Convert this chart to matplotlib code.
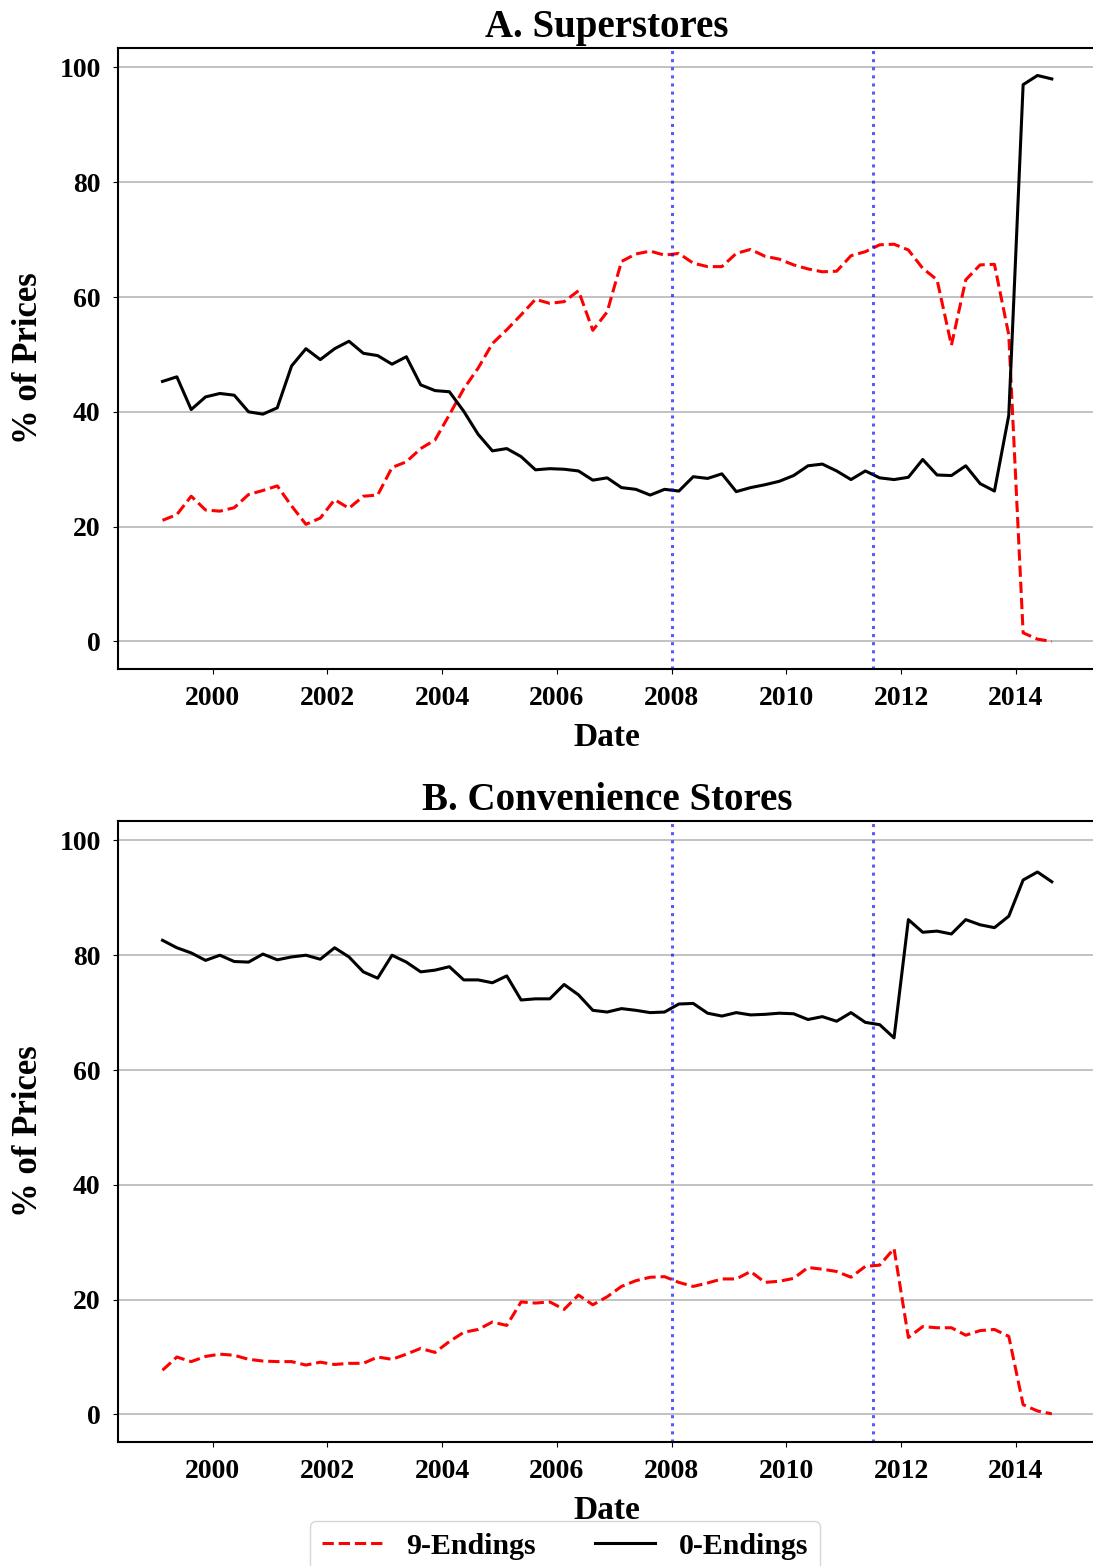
import matplotlib
matplotlib.use("Agg")
import matplotlib.pyplot as plt
import pandas as pd

plt.rcParams['font.family'] = 'serif'
plt.rcParams['font.serif'] = ['Liberation Serif', 'DejaVu Serif']
plt.rcParams['font.weight'] = 'bold'
plt.rcParams['axes.titleweight'] = 'bold'
plt.rcParams['axes.labelweight'] = 'bold'

# quarterly observations, 1999Q1 .. 2014Q3 (plotted at mid-quarter)
quarters = pd.period_range('1999Q1', '2014Q3', freq='Q')
dates = [q.year + (q.quarter - 1) / 4 + 0.125 for q in quarters]

super_9 = [21.1, 22.1, 25.3, 22.9,
           22.7, 23.3, 25.6, 26.3,
           27.1, 23.6, 20.4, 21.5,
           24.7, 23.2, 25.3, 25.5,
           30.3, 31.3, 33.6, 35.1,
           39.5, 44.0, 47.6, 51.9,
           54.3, 56.9, 59.6, 58.9,
           59.2, 61.1, 54.2, 57.4,
           66.2, 67.5, 68.0, 67.3,
           67.6, 65.9, 65.3, 65.3,
           67.6, 68.3, 67.1, 66.6,
           65.6, 64.9, 64.4, 64.5,
           67.2, 67.9, 69.1, 69.2,
           68.2, 65.0, 63.0, 51.6,
           63.0, 65.6, 65.7, 53.4,
           1.5, 0.4, 0.0]
super_0 = [45.3, 46.1, 40.4, 42.6,
           43.2, 42.9, 40.0, 39.6,
           40.7, 48.0, 51.0, 49.1,
           51.0, 52.3, 50.2, 49.8,
           48.3, 49.6, 44.7, 43.7,
           43.5, 40.1, 36.1, 33.2,
           33.6, 32.2, 29.9, 30.1,
           30.0, 29.7, 28.1, 28.5,
           26.8, 26.5, 25.5, 26.5,
           26.2, 28.7, 28.4, 29.2,
           26.1, 26.8, 27.3, 27.9,
           28.9, 30.6, 30.9, 29.7,
           28.2, 29.7, 28.5, 28.2,
           28.6, 31.7, 29.0, 28.9,
           30.6, 27.5, 26.2, 39.4,
           97.0, 98.6, 98.0]
conv_9 = [7.7, 10.0, 9.2, 10.1,
          10.5, 10.3, 9.6, 9.3,
          9.2, 9.2, 8.6, 9.1,
          8.7, 8.9, 8.9, 10.0,
          9.6, 10.5, 11.5, 10.8,
          12.7, 14.3, 14.8, 16.1,
          15.5, 19.6, 19.4, 19.6,
          18.3, 20.8, 19.1, 20.5,
          22.3, 23.3, 23.9, 24.0,
          23.0, 22.3, 22.9, 23.6,
          23.6, 24.9, 23.0, 23.2,
          23.7, 25.6, 25.3, 24.9,
          23.9, 25.8, 26.0, 28.9,
          13.4, 15.3, 15.1, 15.1,
          13.8, 14.6, 14.8, 13.6,
          1.7, 0.6, 0.1]
conv_0 = [82.6, 81.3, 80.4, 79.1,
          80.0, 78.9, 78.8, 80.2,
          79.2, 79.7, 80.0, 79.3,
          81.3, 79.7, 77.1, 76.0,
          80.0, 78.8, 77.1, 77.4,
          78.0, 75.7, 75.7, 75.2,
          76.4, 72.2, 72.4, 72.4,
          74.9, 73.1, 70.4, 70.1,
          70.7, 70.4, 70.0, 70.1,
          71.5, 71.6, 69.9, 69.4,
          70.0, 69.6, 69.7, 69.9,
          69.8, 68.8, 69.3, 68.5,
          70.0, 68.3, 67.9, 65.6,
          86.2, 84.0, 84.2, 83.7,
          86.2, 85.3, 84.8, 86.8,
          93.1, 94.5, 92.8]

event_dates = [2008.0, 2011.5]
panels = [("A. Superstores", super_9, super_0),
          ("B. Convenience Stores", conv_9, conv_0)]
year_ticks = [2000, 2002, 2004, 2006, 2008, 2010, 2012, 2014]

fig = plt.figure(figsize=(10.93, 15.66), dpi=100)
ax_a = fig.add_axes([0.108, 0.5728, 0.895, 0.3966])
ax_b = fig.add_axes([0.108, 0.0792, 0.895, 0.3966])

for ax, (title, nine, zero) in zip([ax_a, ax_b], panels):
    l9, = ax.plot(dates, nine, '--', color='red', lw=2.2, label='9-Endings')
    l0, = ax.plot(dates, zero, '-', color='black', lw=2.2, label='0-Endings')
    for d in event_dates:
        ax.axvline(d, color='blue', ls=':', lw=2.2, alpha=0.65)
    ax.yaxis.grid(True, color='#b8b8b8', lw=1.2)
    ax.set_axisbelow(True)
    ax.set_xlim(1998.35, 2015.4)
    ax.set_ylim(-4.8, 103.4)
    ax.set_xticks(year_ticks)
    ax.set_xticklabels([str(y) for y in year_ticks])
    ax.set_yticks([0, 20, 40, 60, 80, 100])
    ax.tick_params(labelsize=20, pad=9)
    ax.set_title(title, fontsize=28, pad=8)
    ax.set_xlabel("Date", fontsize=24, labelpad=8)
    ax.set_ylabel("% of Prices", fontsize=25, labelpad=10)
    for s in ax.spines.values():
        s.set_linewidth(1.5)

fig.legend(handles=[l9, l0], loc='upper center', ncol=2, fontsize=21.5,
           bbox_to_anchor=(0.517, 0.0385), frameon=True, fancybox=True)

fig.savefig("out.png", dpi=100)
